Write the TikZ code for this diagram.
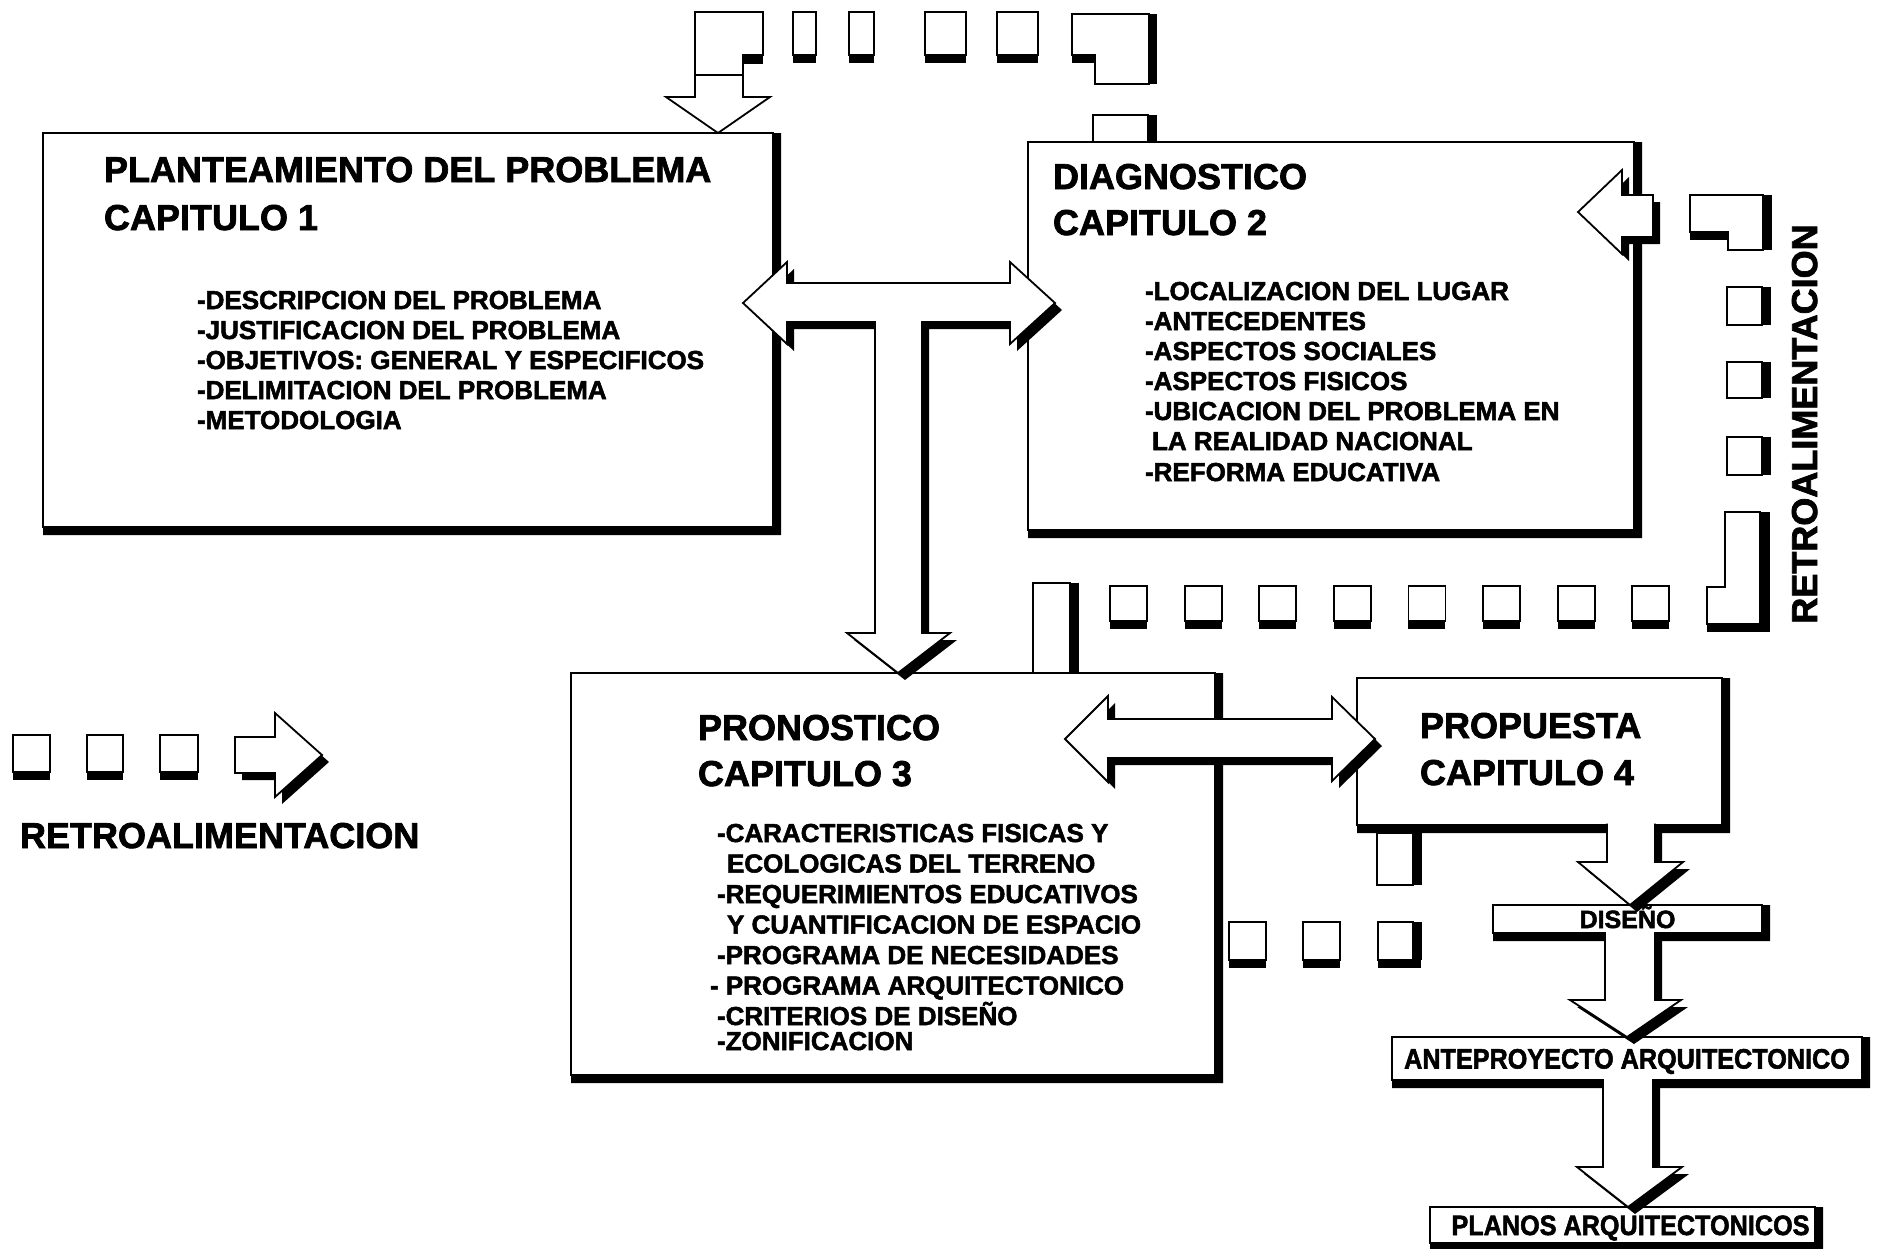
\documentclass[tikz,border=0pt]{standalone}
\usepackage{fontspec}
\setmainfont{Liberation Sans}[BoldFeatures={FakeBold=2}]
\usepackage{graphicx}
\newcommand\fsz[1]{\fontsize{#1}{#1}\selectfont\bfseries}
% small square with shadow below
\newcommand\botsq[4]{\fill[black] (#1,#4) rectangle (#3,#4+8); \draw[ln,fill=white] (#1,#2) rectangle (#3,#4);}
% small square with shadow at right
\newcommand\rtsq[4]{\fill[black] (#3,#2) rectangle (#3+9,#4); \draw[ln,fill=white] (#1,#2) rectangle (#3,#4);}
% block arrow with offset shadow
\newcommand\blockarrow[1]{\path[fill=black,shift={(7,7)}] #1; \path[fill=white,draw=black,ln] #1;}
% L-shaped shadow on right and bottom of a box node
\newcommand\lshadow[1]{\fill[black] (#1.south west) -- (#1.south east) -- (#1.north east) -- ([xshift=8pt]#1.north east) -- ([xshift=8pt,yshift=-8pt]#1.south east) -- ([yshift=-8pt]#1.south west) -- cycle;}
\begin{document}
\begin{tikzpicture}[x=1pt,y=-1pt,
  every node/.style={inner sep=0pt, outer sep=0pt},
  ln/.style={line width=1.8pt, line join=miter},
  sbox/.style={rectangle, draw=black, line width=1.8pt, fill=white},
  ttl/.style={anchor=base west, font=\fsz{36}},
  lst/.style={anchor=base west, font=\fsz{26}}]
\fill[white] (0,0) rectangle (1880,1248);
\useasboundingbox (0,0) rectangle (1880,1248);

% ---------- top row of feedback pieces ----------
\fill[black] (743,55) rectangle (763,64);
\draw[ln,fill=white] (695,12) -- (763,12) -- (763,55) -- (743,55) -- (743,97) -- (770,97) -- (718,133) -- (666,97) -- (695,97) -- cycle;
\draw[ln] (695,75) -- (743,75);
\botsq{793}{12}{816}{55}
\botsq{849}{12}{874}{55}
\botsq{925}{12}{966}{55}
\botsq{997}{12}{1038}{55}
\fill[black] (1149,14) rectangle (1157,84);
\fill[black] (1072,55) rectangle (1095,63);
\draw[ln,fill=white] (1072,14) -- (1149,14) -- (1149,84) -- (1095,84) -- (1095,55) -- (1072,55) -- cycle;
\rtsq{1093}{115}{1148}{142}

% ---------- right column ----------
\fill[black] (1763,195) rectangle (1772,250);
\fill[black] (1690,232) rectangle (1728,240);
\draw[ln,fill=white] (1690,195) -- (1763,195) -- (1763,250) -- (1728,250) -- (1728,232) -- (1690,232) -- cycle;
\rtsq{1727}{287}{1762}{325}
\rtsq{1727}{362}{1762}{398}
\rtsq{1727}{437}{1762}{475}
\fill[black] (1760,512) rectangle (1770,632);
\fill[black] (1707,624) rectangle (1770,632);
\draw[ln,fill=white] (1725,512) -- (1760,512) -- (1760,624) -- (1707,624) -- (1707,587) -- (1725,587) -- cycle;

% ---------- row between box 2 and box 3 ----------
\foreach \i in {0,...,7} {
  \pgfmathsetmacro\xa{1110+74.6*\i}
  \botsq{\xa}{586}{\xa+37}{621}
}
\rtsq{1033}{583}{1070}{673}

% ---------- left feedback row ----------
\botsq{13}{735}{50}{772}
\botsq{87}{735}{123}{772}
\botsq{160}{735}{198}{772}

% ---------- main boxes ----------
\node[sbox, minimum width=730, minimum height=394] (b1) at (408,330) {};
\lshadow{b1}
\node[sbox, minimum width=606, minimum height=388] (b2) at (1331,336) {};
\lshadow{b2}
\node[sbox, minimum width=644, minimum height=402] (b3) at (893,874) {};
\lshadow{b3}
\node[sbox, minimum width=365, minimum height=147] (b4) at (1539.5,751.5) {};
\lshadow{b4}

% squares under box 4
\rtsq{1377}{833}{1413}{885}
\botsq{1229}{922}{1266}{960}
\botsq{1303}{922}{1340}{960}
\fill[black] (1378,960) rectangle (1421,968);
\rtsq{1378}{922}{1413}{960}

% ---------- lower right chain ----------
\node[sbox, minimum width=269, minimum height=28, text height=18, text depth=0, font=\fsz{25}] (dis) at (1627.5,919) {DISEÑO};
\lshadow{dis}
\node[sbox, minimum width=470, minimum height=43, text height=20, text depth=0, font=\fsz{28}] (ante) at (1627,1058.5) {\scalebox{0.9}[1]{ANTEPROYECTO ARQUITECTONICO}};
\lshadow{ante}
\node[sbox, minimum width=385, minimum height=36, text height=20, text depth=0, font=\fsz{28}] (plan) at (1622.5,1225) {\hspace*{16pt}\scalebox{0.9}[1]{PLANOS ARQUITECTONICOS}};
\lshadow{plan}

% ---------- block arrows ----------
\blockarrow{(787,283) -- (1010,283) -- (1010,262) -- (1055,303) -- (1010,344) -- (1010,322) -- (922,322) -- (922,633) -- (950,633) -- (898,673) -- (847,633) -- (875,633) -- (875,322) -- (787,322) -- (787,344) -- (743,303) -- (787,262) -- cycle}
\blockarrow{(1108,719) -- (1332,719) -- (1332,697) -- (1375,739) -- (1332,781) -- (1332,758) -- (1108,758) -- (1108,782) -- (1065,739) -- (1108,696) -- cycle}
\blockarrow{(1653,195) -- (1622,195) -- (1622,170) -- (1578,212) -- (1622,254) -- (1622,237) -- (1653,237) -- cycle}
\blockarrow{(235,737) -- (275,737) -- (275,713) -- (322,755) -- (275,797) -- (275,773) -- (235,773) -- cycle}
\blockarrow{(1607,823.5) -- (1607,862) -- (1578,862) -- (1630,905) -- (1683,862) -- (1655,862) -- (1655,823.5)}
\blockarrow{(1605,932) -- (1605,1000) -- (1570,1000) -- (1627,1037) -- (1681,1000) -- (1655,1000) -- (1655,932)}
\blockarrow{(1603,1079) -- (1603,1167) -- (1577,1167) -- (1628,1207) -- (1682,1167) -- (1653,1167) -- (1653,1079)}

% ---------- texts: box 1 ----------
\node[ttl] (t1a) at (104,182) {PLANTEAMIENTO DEL PROBLEMA};
\node[ttl] (t1b) at (104,230) {CAPITULO 1};
\node[lst] (l1a) at (197,309) {-DESCRIPCION DEL PROBLEMA};
\node[lst] (l1b) at (197,339) {-JUSTIFICACION DEL PROBLEMA};
\node[lst] (l1c) at (197,369) {-OBJETIVOS: GENERAL Y ESPECIFICOS};
\node[lst] (l1d) at (197,399) {-DELIMITACION DEL PROBLEMA};
\node[lst] (l1e) at (197,429) {-METODOLOGIA};

% ---------- texts: box 2 ----------
\node[ttl] (t2a) at (1053,189) {DIAGNOSTICO};
\node[ttl] (t2b) at (1053,235) {CAPITULO 2};
\node[lst] (l2a) at (1145,300) {-LOCALIZACION DEL LUGAR};
\node[lst] (l2b) at (1145,330) {-ANTECEDENTES};
\node[lst] (l2c) at (1145,360) {-ASPECTOS SOCIALES};
\node[lst] (l2d) at (1145,390) {-ASPECTOS FISICOS};
\node[lst] (l2e) at (1145,420) {-UBICACION DEL PROBLEMA EN};
\node[lst] (l2f) at (1152,450) {LA REALIDAD NACIONAL};
\node[lst] (l2g) at (1145,481) {-REFORMA EDUCATIVA};

% ---------- texts: box 3 ----------
\node[ttl] (t3a) at (698,740) {PRONOSTICO};
\node[ttl] (t3b) at (698,786) {CAPITULO 3};
\node[lst] (l3a) at (717,842) {-CARACTERISTICAS FISICAS Y};
\node[lst] (l3b) at (727,872.5) {ECOLOGICAS DEL TERRENO};
\node[lst] (l3c) at (717,903) {-REQUERIMIENTOS EDUCATIVOS};
\node[lst] (l3d) at (727,933.5) {Y CUANTIFICACION DE ESPACIO};
\node[lst] (l3e) at (717,964) {-PROGRAMA DE NECESIDADES};
\node[lst] (l3f) at (710,994.5) {- PROGRAMA ARQUITECTONICO};
\node[lst] (l3g) at (717,1025) {-CRITERIOS DE DISEÑO};
\node[lst] (l3h) at (717,1050) {-ZONIFICACION};

% ---------- texts: box 4 ----------
\node[ttl] (t4a) at (1420,738) {PROPUESTA};
\node[ttl] (t4b) at (1420,785) {CAPITULO 4};

% ---------- feedback labels ----------
\node[ttl] (retroL) at (20,848) {RETROALIMENTACION};
\node[font=\fsz{36}, anchor=base, rotate=90] (retroR) at (1817,424) {RETROALIMENTACION};
\end{tikzpicture}
\end{document}
